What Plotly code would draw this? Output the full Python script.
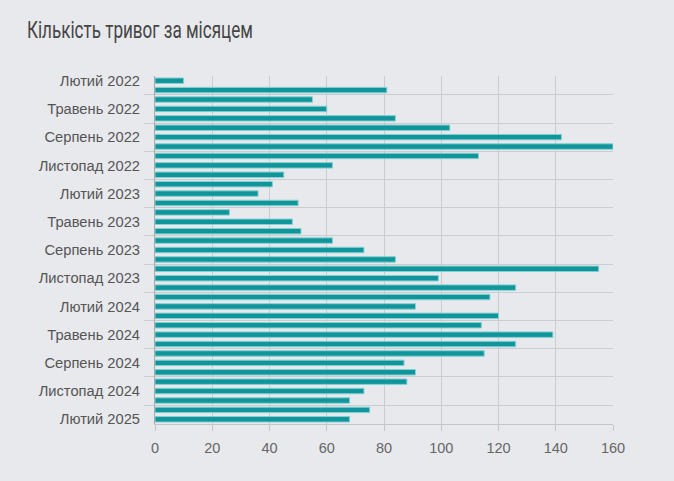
import plotly.graph_objects as go

months_uk = ["Січень", "Лютий", "Березень", "Квітень", "Травень", "Червень",
             "Липень", "Серпень", "Вересень", "Жовтень", "Листопад", "Грудень"]

# Feb 2022 .. Feb 2025
categories = []
y, m = 2022, 1
for _ in range(37):
    categories.append(f"{months_uk[m]} {y}")
    m += 1
    if m == 12:
        m = 0
        y += 1

alerts = [10, 81, 55, 60, 84, 103, 142, 160, 113, 62, 45, 41,
          36, 50, 26, 48, 51, 62, 73, 84, 155, 99, 126, 117,
          91, 120, 114, 139, 126, 115, 87, 91, 88, 73, 68, 75, 68]

idx = list(range(len(categories)))
label_idx = idx[::3]
label_text = [categories[i] for i in label_idx]
grid_idx = [i + 1.5 for i in label_idx[:-1]]

BG = "#e8e9ed"
GRID = "#cbccd0"

fig = go.Figure()
fig.add_trace(go.Bar(
    x=alerts, y=idx, orientation="h", width=0.58,
    marker=dict(color="#10959a", line=dict(color="#86d0d3", width=1)),
    hoverinfo="x", showlegend=False,
))
# invisible trace on y2 to activate boundary gridlines
fig.add_trace(go.Scatter(x=[0], y=[0], yaxis="y2", mode="markers",
                         marker=dict(opacity=0), showlegend=False, hoverinfo="skip"))

fig.update_layout(
    width=674, height=481,
    paper_bgcolor=BG, plot_bgcolor=BG,
    margin=dict(l=155, r=61, t=76, b=57),
    title=dict(text="Кількість тривог за місяцем", x=27/674, xref="container",
               xanchor="left", y=1 - 30/481, yref="container", yanchor="middle",
               font=dict(family="Roboto, sans-serif", size=24, color="#454545")),
    font=dict(family="Liberation Sans, Arial, sans-serif", size=14.7, color="#666666"),
    xaxis=dict(range=[0, 160], tickvals=[0, 20, 40, 60, 80, 100, 120, 140, 160],
               showgrid=True, gridcolor=GRID, gridwidth=1, zeroline=False,
               showline=True, linecolor="#c4c5c9", linewidth=1,
               ticks="outside", ticklen=6, tickcolor="#c4c5c9",
               ticklabelstandoff=5,
               tickfont=dict(size=14.5, color="#666666")),
    yaxis=dict(range=[36.5, -0.5], tickvals=label_idx, ticktext=label_text,
               showgrid=False, zeroline=False,
               showline=True, linecolor="#a9aaae", linewidth=1,
               ticks="outside", ticklen=11, tickcolor="rgba(0,0,0,0)",
               tickfont=dict(size=14.7, color="#555555")),
    yaxis2=dict(range=[36.5, -0.5], overlaying="y", side="left",
                tickvals=grid_idx, showticklabels=False,
                showgrid=True, gridcolor=GRID, gridwidth=1, zeroline=False,
                ticks="outside", ticklen=10, tickcolor=GRID),
)

# Condense the title horizontally (reference uses a condensed face)
post_js = """
(function(){
  function squeeze(){
    var t = document.querySelector('.gtitle');
    if(!t) return;
    t.removeAttribute('transform');
    var bb = t.getBBox();
    if(!bb.width) return;
    var s = 226 / bb.width;
    var x0 = bb.x;
    t.setAttribute('transform', 'translate(' + x0 + ',0) scale(' + s + ',1) translate(' + (-x0) + ',0)');
  }
  squeeze();
  if (document.fonts && document.fonts.ready) { document.fonts.ready.then(squeeze); }
})();
"""

fig.write_html("out.html", post_script=post_js)
